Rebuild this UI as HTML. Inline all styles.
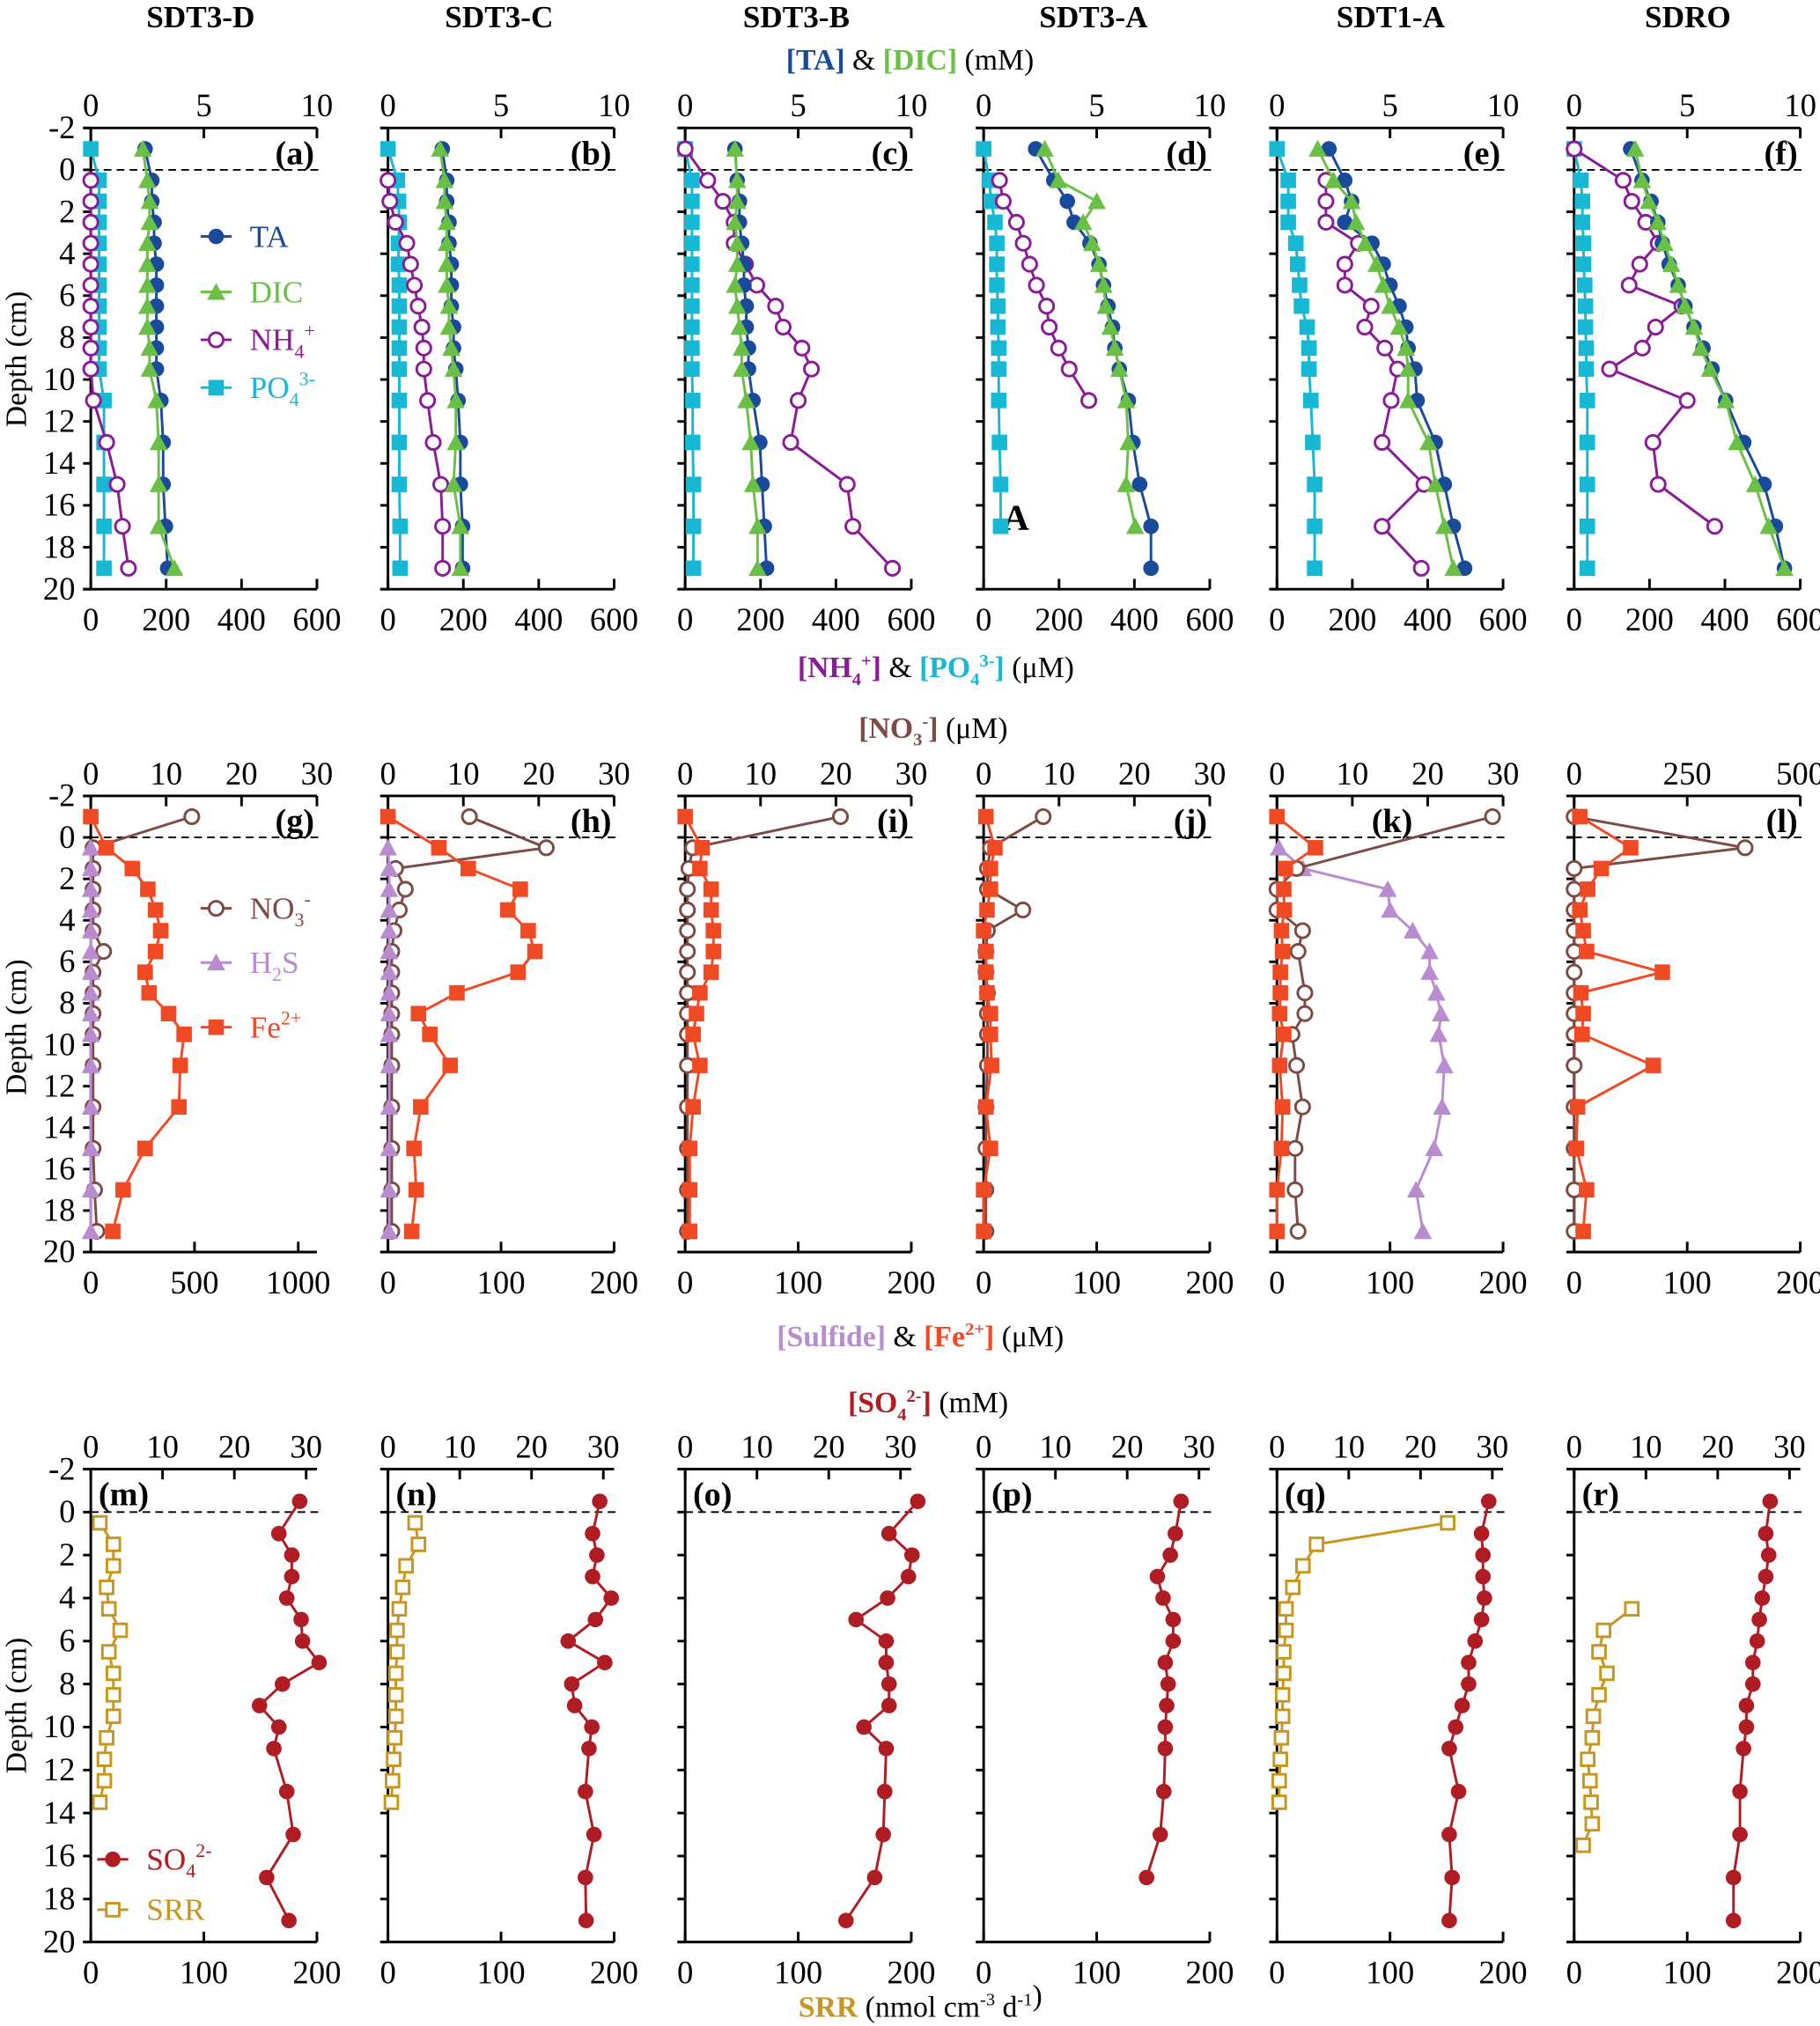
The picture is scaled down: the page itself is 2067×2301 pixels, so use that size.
<!DOCTYPE html>
<html><head><meta charset="utf-8"><style>
html,body{margin:0;padding:0;background:#fff;}
svg{display:block;}
svg text{font-family:"Liberation Serif","DejaVu Serif",serif;}
</style></head>
<body>
<svg id="fig" width="2067" height="2301" viewBox="0 0 1408 1568" xmlns="http://www.w3.org/2000/svg" font-family="Liberation Serif, DejaVu Serif, serif">
<g id="static">
<text x="155" y="21" font-size="24" font-weight="bold" text-anchor="middle">SDT3-D</text>
<text x="386" y="21" font-size="24" font-weight="bold" text-anchor="middle">SDT3-C</text>
<text x="616" y="21" font-size="24" font-weight="bold" text-anchor="middle">SDT3-B</text>
<text x="846" y="21" font-size="24" font-weight="bold" text-anchor="middle">SDT3-A</text>
<text x="1076" y="21" font-size="24" font-weight="bold" text-anchor="middle">SDT1-A</text>
<text x="1306" y="21" font-size="24" font-weight="bold" text-anchor="middle">SDRO</text>

<text x="704" y="54" font-size="23" text-anchor="middle"><tspan fill="#1a4a9a" font-weight="bold">[TA]</tspan> &amp; <tspan fill="#6abf45" font-weight="bold">[DIC]</tspan> (mM)</text>
<text x="724" y="524" font-size="23" text-anchor="middle"><tspan fill="#8b1a96" font-weight="bold">[NH<tspan font-size="14" dy="6">4</tspan><tspan font-size="14" dy="-14">+</tspan><tspan dy="8">]</tspan></tspan> &amp; <tspan fill="#17b8d4" font-weight="bold">[PO<tspan font-size="14" dy="6">4</tspan><tspan font-size="14" dy="-14">3-</tspan><tspan dy="8">]</tspan></tspan> (μM)</text>
<text x="722" y="571" font-size="23" text-anchor="middle"><tspan fill="#7d4a44" font-weight="bold">[NO<tspan font-size="14" dy="6">3</tspan><tspan font-size="14" dy="-14">-</tspan><tspan dy="8">]</tspan></tspan> (μM)</text>
<text x="712" y="1042" font-size="23" text-anchor="middle"><tspan fill="#b98cd0" font-weight="bold">[Sulfide]</tspan> &amp; <tspan fill="#f04a25" font-weight="bold">[Fe<tspan font-size="14" dy="-9">2+</tspan><tspan dy="9">]</tspan></tspan> (μM)</text>
<text x="718" y="1093" font-size="23" text-anchor="middle"><tspan fill="#b01c24" font-weight="bold">[SO<tspan font-size="14" dy="6">4</tspan><tspan font-size="14" dy="-14">2-</tspan><tspan dy="8">]</tspan></tspan> (mM)</text>
<text x="712" y="1561" font-size="23" text-anchor="middle"><tspan fill="#c8961e" font-weight="bold">SRR</tspan> (nmol cm<tspan font-size="14" dy="-9">-3</tspan><tspan dy="9"> d</tspan><tspan font-size="14" dy="-9">-1</tspan>)</text>

<text transform="translate(20,278) rotate(-90)" font-size="23" text-anchor="middle">Depth (cm)</text>
<text transform="translate(20,795) rotate(-90)" font-size="23" text-anchor="middle">Depth (cm)</text>
<text transform="translate(20,1320) rotate(-90)" font-size="23" text-anchor="middle">Depth (cm)</text>
<text x="776" y="410" font-size="28" font-weight="bold">A</text>
</g>
<g id="plots"></g>
</svg>
<script>
// depths (cm)
const depth12 = [-1,0.5,1.5,2.5,3.5,4.5,5.5,6.5,7.5,8.5,9.5,11,13,15,17,19];
const depthSO4 = [-0.5,1,2,3,4,5,6,7,8,9,10,11,13,15,17,19];
const depthSRR = [0.5,1.5,2.5,3.5,4.5,5.5,6.5,7.5,8.5,9.5,10.5,11.5,12.5,13.5,14.5,15.5];
const depthTicks = [-2,0,2,4,6,8,10,12,14,16,18,20];
const N = null;

// Row 1: TA, DIC (mM); NH4, PO4 (uM)
const taA = [2.4,2.7,2.7,2.8,2.8,2.9,2.9,2.9,2.9,2.9,2.9,3.1,3.2,3.2,3.3,3.4];
const dicA = [2.3,2.5,2.6,2.6,2.5,2.5,2.5,2.5,2.5,2.6,2.6,2.9,3.0,3.0,3.0,3.7];
const nh4A = [N,0,0,0,0,0,0,0,0,0,0,7,42,70,84,100];
const po4A = [0,22,22,22,22,22,22,22,22,22,22,35,35,35,35,35];
const taB = [2.4,2.6,2.6,2.7,2.7,2.8,2.8,2.8,2.9,2.9,3.0,3.1,3.2,3.2,3.3,3.3];
const dicB = [2.3,2.5,2.5,2.6,2.6,2.6,2.6,2.7,2.7,2.8,2.9,3.0,3.0,2.9,3.2,3.2];
const nh4B = [N,0,5,20,50,60,70,80,90,95,95,105,120,140,145,145];
const po4B = [0,25,28,30,28,28,30,30,30,30,30,30,30,30,32,32];
const taC = [2.2,2.3,2.4,2.4,2.5,2.6,2.6,2.7,2.7,2.8,2.8,3.0,3.3,3.4,3.5,3.6];
const dicC = [2.2,2.3,2.3,2.2,2.3,2.3,2.2,2.3,2.4,2.5,2.5,2.7,2.9,3.0,3.2,3.2];
const nh4C = [0,60,100,130,130,160,190,240,260,310,335,300,280,430,445,550];
const po4C = [0,18,18,18,18,18,18,18,18,18,18,20,20,22,22,22];
const taD = [2.3,3.1,3.7,4.0,4.7,5.1,5.3,5.5,5.7,5.8,6.0,6.4,6.6,6.9,7.4,7.4];
const dicD = [2.7,3.3,5.0,4.4,4.8,5.1,5.3,5.4,5.6,5.8,6.0,6.3,6.4,6.3,6.7,N];
const nh4D = [N,42,52,87,105,122,140,167,174,199,227,279,N,N,N,N];
const po4D = [0,15,20,30,35,35,35,38,38,40,40,40,42,45,45,N];
const taE = [2.3,3.0,3.3,3.0,4.2,4.7,5.0,5.4,5.7,5.8,6.1,6.2,7.0,7.4,7.8,8.3];
const dicE = [1.8,2.5,3.3,3.5,3.9,4.4,4.7,5.0,5.4,5.7,5.8,5.8,6.7,7.0,7.4,7.8];
const nh4E = [N,130,130,130,216,180,180,250,233,286,320,303,279,390,279,383];
const po4E = [0,30,30,30,50,55,60,65,80,85,85,90,95,100,100,100];
const taF = [2.5,3.0,3.4,3.7,3.9,4.2,4.6,4.9,5.3,5.7,6.1,6.7,7.5,8.4,8.9,9.3];
const dicF = [2.7,3.0,3.3,3.7,4.0,4.3,4.6,4.9,5.3,5.6,6.0,6.7,7.2,8.0,8.6,9.3];
const nh4F = [0,130,153,190,223,174,146,286,216,181,94,300,209,223,373,N];
const po4F = [0,18,22,22,25,25,28,30,30,32,32,35,35,35,35,35];

// Row 2: NO3 (uM, top); H2S, Fe2+ (uM, bottom)
const no3G = [13.4,0.3,0.3,0.3,0.3,0.3,1.7,0.3,0.3,0.3,0.3,0.3,0.3,0.3,0.5,0.8];
const h2sG = [N,0,0,0,0,0,0,0,0,0,0,0,0,0,0,0];
const feG = [0,75,200,275,312,337,312,262,281,375,450,431,425,262,156,106];
const no3H = [10.8,21,1,2.3,1.5,0.8,0.5,0.5,0.5,0.5,0.5,0.5,0.5,0.5,0.5,0.5];
const h2sH = [N,0,1,1,1,1,1,1,1,1,1,1,1,1,1,1];
const feH = [0,45,71,117,106,124,130,115,61,27,37,55,29,23,25,21];
const no3I = [20.6,1,0.5,0.3,0.3,0.3,0.3,0.3,0.3,0.3,0.3,0.3,0.3,0.3,0.3,0.3];
const feI = [0,15,13,23,23,25,25,23,13,10,7,13,7,4,4,4];
const no3J = [7.9,0.9,0.5,0.5,5.2,0.5,0.3,0.3,0.5,0.5,0.5,0.5,0.3,0.3,0.3,0.3];
const feJ = [2,10,6,6,3,0,2,2,3,6,6,7,2,6,0,0];
const no3K = [28.6,N,2.6,0,0,3.4,2.8,N,3.7,3.7,2,2.6,3.4,2.4,2.4,2.8];
const h2sK = [N,1.7,23,98,100,120,135,135,141,145,143,148,146,139,123,129];
const feK = [0,34,7.5,6,6.5,4,5,3,3,2.4,6,2.4,5,4,0,0];
const no3L = [0,378,0,0,0,0,0,0,0,0,0,0,0,0,0,0];
const feL = [5,50,24,12,5,8,11,78,6,8,7,70,3,2,11,8];

// Row 3: SO4 (mM, top); SRR (nmol cm-3 d-1, bottom)
const so4M = [29.1,26.2,28,28,27.3,29.3,29.5,31.8,26.7,23.5,26.2,25.5,27.3,28.2,24.5,27.6];
const srrM = [8,20,20,14,16,26,16,20,20,20,14,12,12,8,N,N];
const so4N = [29.5,28.5,29.1,28.5,31.1,28.9,25.1,30.2,25.6,26,28.4,28,27.5,28.7,27.5,27.6];
const srrN = [24,27,16,13,10,8,8,7,7,7,6,5,4,3,N,N];
const so4O = [32.4,28.4,31.6,31.1,28.2,23.8,28,28,28.4,28.4,24.9,28,27.8,27.6,26.4,22.4];
const so4P = [27.5,26.7,26,24.2,25,26.4,26.4,25.3,25.7,25.5,25.3,25.3,25.1,24.6,22.7,N];
const so4Q = [29.5,28.5,28.7,28.7,28.9,28.5,27.6,26.7,26.7,25.8,24.9,24,25.3,24,24.4,24];
const srrQ = [151,35,23,14,8,8,6,6,5,5,4,3,2,2,N,N];
const so4R = [27.3,26.7,27.1,26.7,26.2,25.8,25.5,24.9,24.9,24,24,23.6,23.1,23.1,22.2,22.2];
const srrR = [N,N,N,N,51,26,22,29,22,17,16,12,14,15,16,8];

// tick labels
const ticksMM = [0,5,10], ticksNH = [0,200,400,600];
const ticksNO3 = [0,10,20,30], ticksNO3L = [0,250,500];
const ticksFeG = [0,500,1000], ticksFe = [0,100,200];
const ticksSO4 = [0,10,20,30], ticksSRR = [0,100,200];

const C = {ta:'#1a4a9a',dic:'#6abf45',nh4:'#8b1a96',po4:'#17b8d4',no3:'#7d4a44',h2s:'#b98cd0',fe:'#f04a25',so4:'#b01c24',srr:'#c8961e'};
const NS='http://www.w3.org/2000/svg';
const root=document.getElementById('plots');
const W=175;
const colX=[70,300,530,761,988,1218];

function mk(tag,attrs,parent){const e=document.createElementNS(NS,tag);for(const k in attrs)e.setAttribute(k,attrs[k]);(parent||root).appendChild(e);return e;}

function series(g,x0,scale,vals,depths,yf,color,shape,name){
  let pts=[];
  for(let i=0;i<vals.length;i++){ if(vals[i]===null||vals[i]===undefined) continue; pts.push([x0+scale*vals[i], yf(depths[i])]); }
  if(pts.length>1){
    const pl=mk('polyline',{points:pts.map(p=>p.join(',')).join(' '),fill:'none',stroke:color,'stroke-width':2},g);
    
    
  }
  pts.forEach(p=>{
    let m;
    if(shape==='circle') m=mk('circle',{cx:p[0],cy:p[1],r:6,fill:color},g);
    else if(shape==='ocircle') m=mk('circle',{cx:p[0],cy:p[1],r:5.5,fill:'#fff',stroke:color,'stroke-width':2},g);
    else if(shape==='tri') m=mk('polygon',{points:`${p[0]},${p[1]-7} ${p[0]-7},${p[1]+6} ${p[0]+7},${p[1]+6}`,fill:color},g);
    else if(shape==='sq') m=mk('rect',{x:p[0]-6,y:p[1]-6,width:12,height:12,fill:color},g);
    else m=mk('rect',{x:p[0]-5,y:p[1]-5,width:10,height:10,fill:'#fff',stroke:color,'stroke-width':2},g);
    
    
  });
}

function panel(col,yTop,yBot,label,topTicks,topMax,botTicks,botMax,list,labelPos){
  const x0=colX[col];
  const g=mk('g',{});
  
  
  const yf=d=>yTop+(d+2)*(yBot-yTop)/22;
  mk('line',{x1:x0-6,y1:yTop,x2:x0+W,y2:yTop,stroke:'#000','stroke-width':2},g);
  mk('line',{x1:x0-6,y1:yBot,x2:x0+W,y2:yBot,stroke:'#000','stroke-width':2},g);
  mk('line',{x1:x0,y1:yTop,x2:x0,y2:yBot,stroke:'#000','stroke-width':2},g);
  mk('line',{x1:x0,y1:yf(0),x2:x0+W+4,y2:yf(0),stroke:'#000','stroke-width':1.3,'stroke-dasharray':'6,4'},g);
  topTicks.forEach(t=>{const x=x0+W*t/topMax;mk('line',{x1:x,y1:yTop,x2:x,y2:yTop+8,stroke:'#000','stroke-width':2},g);
    const tx=mk('text',{x:x,y:yTop-9,'font-size':25,'text-anchor':'middle'},g);tx.textContent=t;
    });
  botTicks.forEach(t=>{const x=x0+W*t/botMax;mk('line',{x1:x,y1:yBot,x2:x,y2:yBot-8,stroke:'#000','stroke-width':2},g);
    const tx=mk('text',{x:x,y:yBot+32,'font-size':25,'text-anchor':'middle'},g);tx.textContent=t;
    });
  depthTicks.forEach(d=>{const y=yf(d);mk('line',{x1:x0-6,y1:y,x2:x0,y2:y,stroke:'#000','stroke-width':2},g);
    if(col===0){const tx=mk('text',{x:x0-12,y:y+8,'font-size':25,'text-anchor':'end'},g);tx.textContent=d;
      }});
  let lx = labelPos==='left'?x0+6:(labelPos==='mid'?x0+W-70:x0+W-2);
  const lb=mk('text',{x:lx,y:yTop+28,'font-size':26,'font-weight':'bold','text-anchor':labelPos==='left'?'start':'end'},g);
  lb.textContent='('+label+')';
  
  
  list.forEach(s=>{
    const sc = s.axis==='top'? W/topMax : W/botMax;
    series(g,x0,sc,s.v,s.d,yf,s.c,s.shape,s.name);
  });
}

const R1=[99,456], R2=[616,969], R3=[1137,1503];
const r1=(ta,dic,nh,po)=>[{v:po,d:depth12,axis:'bot',c:C.po4,shape:'sq',name:'po4'},{v:nh,d:depth12,axis:'bot',c:C.nh4,shape:'ocircle',name:'nh4'},{v:ta,d:depth12,axis:'top',c:C.ta,shape:'circle',name:'ta'},{v:dic,d:depth12,axis:'top',c:C.dic,shape:'tri',name:'dic'}];
panel(0,R1[0],R1[1],'a',ticksMM,10,ticksNH,600,r1(taA,dicA,nh4A,po4A));
panel(1,R1[0],R1[1],'b',ticksMM,10,ticksNH,600,r1(taB,dicB,nh4B,po4B));
panel(2,R1[0],R1[1],'c',ticksMM,10,ticksNH,600,r1(taC,dicC,nh4C,po4C));
panel(3,R1[0],R1[1],'d',ticksMM,10,ticksNH,600,r1(taD,dicD,nh4D,po4D));
panel(4,R1[0],R1[1],'e',ticksMM,10,ticksNH,600,r1(taE,dicE,nh4E,po4E));
panel(5,R1[0],R1[1],'f',ticksMM,10,ticksNH,600,r1(taF,dicF,nh4F,po4F));

const r2=(no3,h2s,fe)=>{const a=[{v:no3,d:depth12,axis:'top',c:C.no3,shape:'ocircle',name:'no3'}];if(h2s)a.push({v:h2s,d:depth12,axis:'bot',c:C.h2s,shape:'tri',name:'h2s'});a.push({v:fe,d:depth12,axis:'bot',c:C.fe,shape:'sq',name:'fe2'});return a;};
panel(0,R2[0],R2[1],'g',ticksNO3,30,ticksFeG,1090,r2(no3G,h2sG,feG));
panel(1,R2[0],R2[1],'h',ticksNO3,30,ticksFe,200,r2(no3H,h2sH,feH));
panel(2,R2[0],R2[1],'i',ticksNO3,30,ticksFe,200,r2(no3I,null,feI));
panel(3,R2[0],R2[1],'j',ticksNO3,30,ticksFe,200,r2(no3J,null,feJ));
panel(4,R2[0],R2[1],'k',ticksNO3,30,ticksFe,200,[{v:h2sK,d:depth12,axis:'bot',c:C.h2s,shape:'tri',name:'h2s'},{v:no3K,d:depth12,axis:'top',c:C.no3,shape:'ocircle',name:'no3'},{v:feK,d:depth12,axis:'bot',c:C.fe,shape:'sq',name:'fe2'}],'mid');
panel(5,R2[0],R2[1],'l',ticksNO3L,500,ticksFe,200,[{v:no3L,d:depth12,axis:'top',c:C.no3,shape:'ocircle',name:'no3'},{v:feL,d:depth12,axis:'bot',c:C.fe,shape:'sq',name:'fe2'}]);

const r3=(so4,srr)=>{const a=[];if(srr)a.push({v:srr,d:depthSRR,axis:'bot',c:C.srr,shape:'osq',name:'srr'});a.push({v:so4,d:depthSO4,axis:'top',c:C.so4,shape:'circle',name:'so4'});return a;};
panel(0,R3[0],R3[1],'m',ticksSO4,31.5,ticksSRR,200,r3(so4M,srrM),'left');
panel(1,R3[0],R3[1],'n',ticksSO4,31.5,ticksSRR,200,r3(so4N,srrN),'left');
panel(2,R3[0],R3[1],'o',ticksSO4,31.5,ticksSRR,200,r3(so4O,null),'left');
panel(3,R3[0],R3[1],'p',ticksSO4,31.5,ticksSRR,200,r3(so4P,null),'left');
panel(4,R3[0],R3[1],'q',ticksSO4,31.5,ticksSRR,200,r3(so4Q,srrQ),'left');
panel(5,R3[0],R3[1],'r',ticksSO4,31.5,ticksSRR,200,r3(so4R,srrR),'left');

// legends
function legend(x,y,shape,color,txt,sub,sup,tail,name){
  const g=mk('g',{});
  
  
  mk('line',{x1:x-12,y1:y,x2:x+12,y2:y,stroke:color,'stroke-width':2},g);
  series(g,x,1,[0],[0],()=>y,color,shape,'legend-'+name);
  const t=mk('text',{x:x+26,y:y+8,'font-size':24,fill:color},g);
  let h=txt;
  if(sub) h+=`<tspan font-size="15" dy="6">${sub}</tspan>`;
  if(sup) h+=`<tspan font-size="15" dy="${sub?-16:-10}">${sup}</tspan>`;
  if(tail) h+=`<tspan dy="${sub?-6:0}">${tail}</tspan>`;
  t.innerHTML=h;
}
legend(167,183,'circle',C.ta,'TA','','','','ta');
legend(167,226,'tri',C.dic,'DIC','','','','dic');
legend(167,263,'ocircle',C.nh4,'NH','4','+','','nh4');
legend(167,300,'sq',C.po4,'PO','4','3-','','po4');
legend(167,703,'ocircle',C.no3,'NO','3','-','','no3');
legend(167,745,'tri',C.h2s,'H','2','','S','h2s');
legend(167,795,'sq',C.fe,'Fe','','2+','','fe2');
legend(87,1439,'circle',C.so4,'SO','4','2-','','so4');
legend(87,1478,'osq',C.srr,'SRR','','','','srr');
</script>
</body></html>
